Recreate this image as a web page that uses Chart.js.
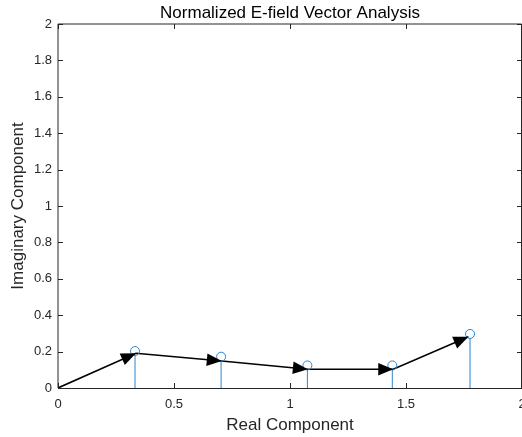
<!DOCTYPE html>
<html>
<head>
<meta charset="utf-8">
<script src="https://cdn.jsdelivr.net/npm/chart.js@4"></script>
<style>
  html, body { margin: 0; padding: 0; background: #fff; }
  #wrap { width: 522px; height: 437px; position: relative; }
</style>
</head>
<body>
<div id="wrap"><canvas id="viz"></canvas></div>
<script>
// stem markers (blue circles)
var stemX = [0.332, 0.703, 1.075, 1.441, 1.776];
var stemY = [0.203, 0.172, 0.124, 0.124, 0.297];

// head-to-tail vectors (black arrows), starting at the origin
var pathX = [0, 0.336, 0.706, 1.077, 1.445, 1.769];
var pathY = [0, 0.191, 0.148, 0.103, 0.103, 0.282];

var xTicks = [0, 0.5, 1, 1.5, 2];
var yTicks = [0, 0.2, 0.4, 0.6, 0.8, 1, 1.2, 1.4, 1.6, 1.8, 2];

(function(Chart){

    var FONT = 'Liberation Sans, Arial, sans-serif';
    var AXIS = '#262626';
    var STEM = '#2a86d0';

    function toPoints(xs, ys) {
        return xs.map(function(x, i) { return {x: x, y: ys[i]}; });
    }

    // matlab-ish look: stems, arrow heads, boxed axes with inward ticks
    var matlabAxes = {
        id: 'matlabAxes',
        afterLayout: function(chart) {
            // center the title over the plot box, not the canvas
            var t = chart.titleBlock;
            if (t) {
                t.left = chart.chartArea.left;
                t.right = chart.chartArea.right;
                t.width = t.right - t.left;
            }
        },
        beforeDatasetsDraw: function(chart) {
            var ctx = chart.ctx;
            var y0 = chart.scales.y.getPixelForValue(0);
            var meta = chart.getDatasetMeta(0);
            ctx.save();
            ctx.strokeStyle = STEM;
            ctx.lineWidth = 1;
            meta.data.forEach(function(pt) {
                ctx.beginPath();
                ctx.moveTo(pt.x, y0);
                ctx.lineTo(pt.x, pt.y + 4.5);
                ctx.stroke();
            });
            ctx.restore();
        },
        afterDatasetsDraw: function(chart) {
            var ctx = chart.ctx;
            var pts = chart.getDatasetMeta(1).data;
            var L = 15, W = 6.3;
            ctx.save();
            ctx.fillStyle = '#000';
            for (var i = 1; i < pts.length; i++) {
                var a = pts[i - 1], b = pts[i];
                var ang = Math.atan2(b.y - a.y, b.x - a.x);
                var c = Math.cos(ang), s = Math.sin(ang);
                var bx = b.x - L * c, by = b.y - L * s;
                ctx.beginPath();
                ctx.moveTo(b.x, b.y);
                ctx.lineTo(bx - W * s, by + W * c);
                ctx.lineTo(bx + W * s, by - W * c);
                ctx.closePath();
                ctx.fill();
            }
            ctx.restore();
        },
        afterDraw: function(chart) {
            var ctx = chart.ctx;
            var a = chart.chartArea;
            var tl = 5;
            ctx.save();
            ctx.strokeStyle = AXIS;
            ctx.lineWidth = 1;
            ctx.beginPath();
            // box
            ctx.moveTo(a.left, a.top);
            ctx.lineTo(a.right - 0.5, a.top);
            ctx.moveTo(a.right - 0.5, a.top);
            ctx.lineTo(a.right - 0.5, a.bottom);
            ctx.moveTo(a.left, a.bottom + 0.5);
            ctx.lineTo(a.right, a.bottom + 0.5);
            ctx.moveTo(a.left, a.top);
            ctx.lineTo(a.left, a.bottom);
            // inward ticks
            xTicks.forEach(function(v) {
                var px = Math.round(chart.scales.x.getPixelForValue(v)) + 0.5;
                ctx.moveTo(px, a.bottom);
                ctx.lineTo(px, a.bottom - tl);
                ctx.moveTo(px, a.top);
                ctx.lineTo(px, a.top + tl);
            });
            yTicks.forEach(function(v) {
                var py = Math.round(chart.scales.y.getPixelForValue(v)) + 0.5;
                ctx.moveTo(a.left, py);
                ctx.lineTo(a.left + tl, py);
                ctx.moveTo(a.right, py);
                ctx.lineTo(a.right - tl, py);
            });
            ctx.stroke();
            ctx.restore();
        }
    };

    var ctx = document.getElementById('viz').getContext('2d');

    var chart = new Chart(ctx, {
        type: 'scatter',
        data: {
            datasets: [{
                label: 'stem',
                data: toPoints(stemX, stemY),
                showLine: false,
                pointStyle: 'circle',
                pointRadius: 4.5,
                pointBorderWidth: 1,
                pointBorderColor: STEM,
                pointBackgroundColor: 'rgba(0,0,0,0)'
            },
            {
                label: 'vectors',
                data: toPoints(pathX, pathY),
                showLine: true,
                borderColor: '#000',
                borderWidth: 1.6,
                pointRadius: 0,
                tension: 0
            }]
        },
        options: {
            responsive: true,
            maintainAspectRatio: false,
            animation: false,
            devicePixelRatio: 1,
            layout: { padding: 0, autoPadding: false },
            plugins: {
                legend: { display: false },
                tooltip: { enabled: false },
                title: {
                    display: true,
                    text: 'Normalized E-field Vector Analysis',
                    color: '#000',
                    font: { family: FONT, size: 17, weight: 'normal' },
                    padding: { top: 3, bottom: 0.6 }
                }
            },
            scales: {
                x: {
                    type: 'linear',
                    min: 0,
                    max: 2,
                    afterBuildTicks: function(scale) {
                        scale.ticks = xTicks.map(function(v) { return {value: v}; });
                    },
                    afterFit: function(scale) {
                        scale.height = 49;
                        scale.paddingRight = 0;
                        scale.paddingLeft = 0;
                    },
                    grid: { display: false, drawTicks: false, tickLength: 0 },
                    border: { display: false },
                    ticks: {
                        color: AXIS,
                        font: { family: FONT, size: 13 },
                        padding: 9,
                        maxRotation: 0,
                        autoSkip: false,
                        callback: function(v) { return String(v); }
                    },
                    title: {
                        display: true,
                        text: 'Real Component',
                        color: AXIS,
                        font: { family: FONT, size: 17 },
                        padding: { top: 0, bottom: 1.3 }
                    }
                },
                y: {
                    type: 'linear',
                    min: 0,
                    max: 2,
                    afterBuildTicks: function(scale) {
                        scale.ticks = yTicks.map(function(v) { return {value: v}; });
                    },
                    afterFit: function(scale) {
                        scale.width = 58;
                    },
                    grid: { display: false, drawTicks: false, tickLength: 0 },
                    border: { display: false },
                    ticks: {
                        color: AXIS,
                        font: { family: FONT, size: 13 },
                        padding: 6,
                        autoSkip: false,
                        callback: function(v) { return String(v); }
                    },
                    title: {
                        display: true,
                        text: 'Imaginary Component',
                        color: AXIS,
                        font: { family: FONT, size: 17 },
                        padding: { top: 7.8, bottom: 0 }
                    }
                }
            }
        },
        plugins: [matlabAxes]
    });

})(Chart);
</script>
</body>
</html>
